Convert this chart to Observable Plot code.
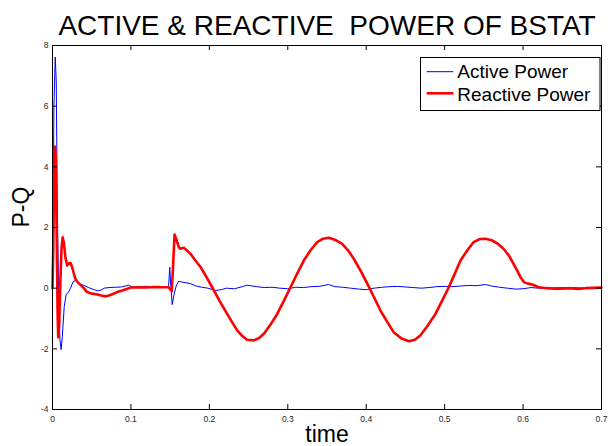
<!DOCTYPE html>
<html>
<head>
<meta charset="utf-8">
<script src="https://cdn.jsdelivr.net/npm/d3@7"></script>
<script src="https://cdn.jsdelivr.net/npm/@observablehq/plot@0.6"></script>
<style>
  html, body { margin: 0; padding: 0; background: #fff; }
  #chart { width: 613px; height: 446px; }
</style>
</head>
<body>
<div id="chart"></div>
<script>
const titleText = "ACTIVE & REACTIVE  POWER OF BSTAT";
const xLabelText = "time";
const yLabelText = "P-Q";
const xTicks = [0, 0.1, 0.2, 0.3, 0.4, 0.5, 0.6, 0.7];
const yTicks = [-4, -2, 0, 2, 4, 6, 8];
const seriesNames = ["Active Power", "Reactive Power"];
const seriesColors = ["#0000ff", "#ff0000"];

// Active power (blue)
const tActive = [0, 0.0008, 0.0018, 0.0035, 0.0048, 0.006, 0.008, 0.0095, 0.011, 0.0125,
  0.015, 0.0175, 0.020, 0.023, 0.026, 0.029, 0.033, 0.037, 0.041, 0.046,
  0.052, 0.058, 0.062, 0.066, 0.072, 0.080, 0.088, 0.097, 0.102, 0.11,
  0.12, 0.13, 0.14, 0.148, 0.1495, 0.1505, 0.1526, 0.155, 0.158, 0.161,
  0.165, 0.170, 0.176, 0.182, 0.19, 0.198, 0.208, 0.215, 0.222, 0.232,
  0.242, 0.248, 0.26, 0.27, 0.28, 0.29, 0.30, 0.31, 0.32, 0.33,
  0.34, 0.352, 0.36, 0.37, 0.38, 0.39, 0.40, 0.41, 0.42, 0.43,
  0.44, 0.45, 0.46, 0.47, 0.48, 0.49, 0.50, 0.51, 0.52, 0.53,
  0.54, 0.552, 0.56, 0.57, 0.58, 0.59, 0.60, 0.61, 0.62, 0.64,
  0.66, 0.68, 0.70];
const pActive = [0, 2.5, 6.0, 7.62, 6.8, 3.0, -0.5, -1.7, -2.03, -1.6,
  -0.6, -0.2, -0.15, 0.0, 0.2, 0.25, 0.17, 0.12, 0.08, 0.02,
  -0.04, -0.09, -0.06, 0.0, 0.02, 0.03, 0.04, 0.1, 0.03, 0.05,
  0.06, 0.04, 0.05, 0.05, 0.69, 0.2, -0.54, -0.2, 0.1, 0.23,
  0.2, 0.18, 0.15, 0.08, 0.03, 0.0, -0.08, -0.05, 0.0, -0.02,
  0.05, 0.1, 0.05, 0.02, 0.03, 0.0, -0.02, 0.03, 0.02, 0.05,
  0.06, 0.12, 0.05, 0.03, 0.0, -0.03, -0.05, 0.0, 0.03, 0.05,
  0.06, 0.04, 0.02, 0.0, 0.02, 0.05, 0.06, 0.05, 0.07, 0.09,
  0.08, 0.12, 0.07, 0.03, 0.0, -0.03, -0.02, 0.02, 0.0, 0.01,
  0.02, 0.0, 0.02];

// Reactive power (red)
const tReactive = [0, 0.001, 0.002, 0.003, 0.0042, 0.0055, 0.0065, 0.0073, 0.0085, 0.010,
  0.0115, 0.013, 0.0145, 0.0165, 0.0187, 0.021, 0.023, 0.025, 0.027, 0.029,
  0.032, 0.036, 0.040, 0.044, 0.05, 0.056, 0.062, 0.068, 0.072, 0.077,
  0.0825, 0.09, 0.1, 0.11, 0.12, 0.13, 0.14, 0.148, 0.152, 0.1535,
  0.1556, 0.158, 0.161, 0.163, 0.1675, 0.171, 0.176, 0.182, 0.189, 0.196,
  0.2036, 0.213, 0.2227, 0.229, 0.2355, 0.242, 0.248, 0.2567, 0.263, 0.2695,
  0.278, 0.2865, 0.295, 0.3035, 0.312, 0.3204, 0.329, 0.3375, 0.345, 0.3523,
  0.36, 0.3694, 0.377, 0.3842, 0.394, 0.4033, 0.41, 0.418, 0.427, 0.435,
  0.445, 0.4545, 0.462, 0.469, 0.478, 0.4883, 0.497, 0.5053, 0.513, 0.5202,
  0.529, 0.537, 0.545, 0.552, 0.56, 0.567, 0.575, 0.5818, 0.5875, 0.5925,
  0.597, 0.601, 0.606, 0.6116, 0.62, 0.63, 0.64, 0.648, 0.66, 0.67,
  0.68, 0.69, 0.70];
const qReactive = [0, 1.3, 3.5, 4.67, 4.2, 1.5, -0.8, -1.62, -1.2, 0.2,
  1.3, 1.68, 1.5, 1.0, 0.75, 0.82, 0.83, 0.7, 0.5, 0.32,
  0.2, 0.1, 0.0, -0.13, -0.18, -0.2, -0.24, -0.27, -0.24, -0.19,
  -0.13, -0.07, 0.02, 0.03, 0.02, 0.04, 0.03, 0.03, -0.1, 0.6,
  1.77, 1.6, 1.35, 1.3, 1.33, 1.25, 1.13, 0.92, 0.69, 0.38,
  0.03, -0.42, -0.85, -1.12, -1.39, -1.58, -1.7, -1.72, -1.65, -1.5,
  -1.2, -0.85, -0.42, 0.03, 0.48, 0.91, 1.25, 1.52, 1.63, 1.66,
  1.6, 1.46, 1.24, 0.97, 0.52, 0.05, -0.3, -0.73, -1.12, -1.45,
  -1.66, -1.75, -1.7, -1.56, -1.25, -0.85, -0.4, 0.03, 0.48, 0.91,
  1.25, 1.52, 1.62, 1.63, 1.58, 1.48, 1.3, 1.08, 0.82, 0.58,
  0.35, 0.2, 0.15, 0.12, 0.03, 0.0, -0.02, -0.02, 0.0, -0.03,
  0.0, 0.01, 0.02];

const active = tActive.map((t, i) => ({t, v: pActive[i]}));
const reactive = tReactive.map((t, i) => ({t, v: qReactive[i]}));

const font = "'Liberation Sans', Arial, Helvetica, sans-serif";
const tickFont = 8.5;
const tickColor = "#262626";

const W = 613, H = 446;
const mL = 52, mR = 12, mT = 45, mB = 37;
const tickLen = 5;
const frameW = W - mL - mR, frameH = H - mT - mB;

const chart = Plot.plot({
  width: W,
  height: H,
  marginLeft: mL,
  marginRight: mR,
  marginTop: mT,
  marginBottom: mB,
  style: {fontFamily: font, background: "#fff", color: "#000"},
  x: {domain: [0, 0.7]},
  y: {domain: [-4, 8]},
  marks: [
    Plot.line(active, {x: "t", y: "v", stroke: seriesColors[0], strokeWidth: 1}),
    Plot.line(reactive, {x: "t", y: "v", stroke: seriesColors[1], strokeWidth: 2.6}),
    Plot.frame({stroke: "#000", strokeWidth: 1}),
    // inward ticks on all four sides
    Plot.ruleX(xTicks, {x: d => d, insetTop: frameH - tickLen, stroke: "#000", strokeWidth: 1}),
    Plot.ruleX(xTicks, {x: d => d, insetBottom: frameH - tickLen, stroke: "#000", strokeWidth: 1}),
    Plot.ruleY(yTicks, {y: d => d, insetRight: frameW - tickLen, stroke: "#000", strokeWidth: 1}),
    Plot.ruleY(yTicks, {y: d => d, insetLeft: frameW - tickLen, stroke: "#000", strokeWidth: 1}),
    // tick labels
    Plot.axisX(xTicks, {anchor: "bottom", tickSize: 0, tickPadding: 6, fontSize: tickFont, fill: tickColor, label: null, tickFormat: d => String(d)}),
    Plot.axisY(yTicks, {anchor: "left", tickSize: 0, tickPadding: 4, fontSize: tickFont, fill: tickColor, label: null, tickFormat: d => String(d)}),
    // titles
    Plot.text([titleText], {frameAnchor: "top", dy: -10.7, lineAnchor: "bottom", fontSize: 28, fill: "#000"}),
    Plot.text([xLabelText], {frameAnchor: "bottom", dy: 32, lineAnchor: "bottom", fontSize: 23, fill: "#000"}),
    Plot.text([yLabelText], {frameAnchor: "left", dx: -24, rotate: -90, lineAnchor: "bottom", fontSize: 23, fill: "#000"})
  ]
});

// legend box
const svg = d3.select(chart);
const lg = svg.append("g").attr("font-family", font).attr("text-anchor", "start");
lg.append("rect").attr("x", 420.5).attr("y", 57.5).attr("width", 179.5).attr("height", 53)
  .attr("fill", "#fff").attr("stroke", "#000").attr("stroke-width", 1);
seriesNames.forEach((name, i) => {
  const y = i === 0 ? 71.7 : 93.3;
  lg.append("line").attr("x1", 426.7).attr("x2", 453.3).attr("y1", y).attr("y2", y)
    .attr("stroke", seriesColors[i]).attr("stroke-width", i === 0 ? 1 : 2.6);
  lg.append("text").attr("x", 457.3).attr("y", i === 0 ? 78.3 : 100.6)
    .attr("font-size", 19).attr("fill", "#000").attr("text-anchor", "start").text(name);
});

document.getElementById("chart").appendChild(chart);
</script>
</body>
</html>
